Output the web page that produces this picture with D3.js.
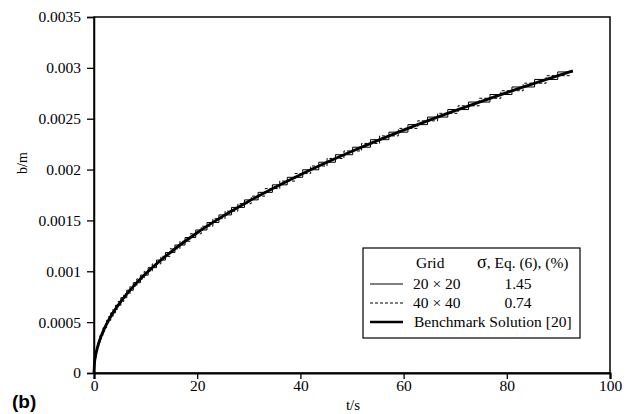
<!DOCTYPE html>
<html>
<head>
<meta charset="utf-8">
<script src="https://cdn.jsdelivr.net/npm/d3@7"></script>
<style>
  body { margin: 0; background: #fff; }
  text { font-family: "Liberation Serif", "Times New Roman", serif; fill: #000; }
</style>
</head>
<body>
<div id="chart"></div>
<script>
var width = 626;
var height = 414;
var margin = {top: 17, right: 16, bottom: 41, left: 94};
var chartWidth = width - margin.left - margin.right;
var chartHeight = height - margin.top - margin.bottom;

// tick values / labels
var xTicks = [0, 20, 40, 60, 80, 100];
var yTicks = [0, 0.0005, 0.001, 0.0015, 0.002, 0.0025, 0.003, 0.0035];
var yTickLabels = ["0", "0.0005", "0.001", "0.0015", "0.002", "0.0025", "0.003", "0.0035"];

// benchmark solution
var benchT = [0, 0.1, 0.25, 0.5, 1, 2, 3, 5, 7.5, 10, 15, 20, 25, 30, 40, 50, 60, 70, 80, 92.8];
var benchB = [0, 0.0000975, 0.000154, 0.000218, 0.000308, 0.000436, 0.000534, 0.000689, 0.000844, 0.000975,
              0.001194, 0.001379, 0.001542, 0.001689, 0.00195, 0.00218, 0.002388, 0.002579, 0.002757, 0.00297];

// 20x20 grid (stair corners, step after)
var grid20T = [0, 0.01, 0.13, 0.36, 0.71, 1.17, 1.74, 2.43, 3.24, 4.16, 5.2, 6.35, 7.62, 9, 10.5, 12.11,
               13.84, 15.68, 17.64, 19.71, 21.9, 24.21, 26.63, 29.16, 31.81, 34.57, 37.45, 40.45, 43.56,
               46.79, 50.13, 53.58, 57.15, 60.84, 64.64, 68.56, 72.59, 76.74, 81, 85.38, 89.87, 92.8];
var grid20B = [0, 0.000074, 0.000148, 0.000222, 0.000296, 0.00037, 0.000444, 0.000518, 0.000592, 0.000666,
               0.00074, 0.000814, 0.000888, 0.000962, 0.001036, 0.00111, 0.001184, 0.001258, 0.001332,
               0.001406, 0.00148, 0.001554, 0.001628, 0.001702, 0.001776, 0.00185, 0.001924, 0.001998,
               0.002072, 0.002146, 0.00222, 0.002294, 0.002368, 0.002442, 0.002516, 0.00259, 0.002664,
               0.002738, 0.002812, 0.002886, 0.00296, 0.00296];

// 40x40 grid
var grid40T = [0, 0.01, 0.06, 0.23, 0.52, 0.92, 1.44, 2.07, 2.82, 3.69, 4.67, 5.76, 6.97, 8.29, 9.73, 11.29,
               12.96, 14.75, 16.65, 18.66, 20.79, 23.04, 25.4, 27.88, 30.47, 33.18, 36, 38.94, 41.99, 45.16,
               48.44, 51.84, 55.35, 58.98, 62.73, 66.59, 70.56, 74.65, 78.85, 83.17, 87.61, 92.5];
var grid40B = [0, 0.000037, 0.000111, 0.000185, 0.000259, 0.000333, 0.000407, 0.000481, 0.000555, 0.000629,
               0.000703, 0.000777, 0.000851, 0.000925, 0.000999, 0.001073, 0.001147, 0.001221, 0.001295,
               0.001369, 0.001443, 0.001517, 0.001591, 0.001665, 0.001739, 0.001813, 0.001887, 0.001961,
               0.002035, 0.002109, 0.002183, 0.002257, 0.002331, 0.002405, 0.002479, 0.002553, 0.002627,
               0.002701, 0.002775, 0.002849, 0.002923, 0.002923];

// legend rows
var legendGrid = ["20 \u00d7 20", "40 \u00d7 40"];
var legendSigma = ["1.45", "0.74"];
var legendBench = "Benchmark Solution [20]";

var svg = d3.select("#chart")
    .append("svg")
    .attr("width", width)
    .attr("height", height);

var g = svg.append("g")
    .attr("transform", "translate(" + margin.left + "," + margin.top + ")");

var x = d3.scaleLinear().domain([0, 100]).range([0, chartWidth]);
var y = d3.scaleLinear().domain([0, 0.0035]).range([chartHeight, 0]);

// frame
g.append("rect")
    .attr("width", chartWidth)
    .attr("height", chartHeight)
    .attr("fill", "none")
    .attr("stroke", "#000")
    .attr("stroke-width", 1.5);

// axes
var xAxis = g.append("g")
    .attr("transform", "translate(0," + chartHeight + ")")
    .call(d3.axisBottom(x).tickValues(xTicks).tickSize(6).tickPadding(1).tickFormat(d3.format("d")));

var yAxis = g.append("g")
    .call(d3.axisLeft(y).tickValues(yTicks).tickSize(7).tickPadding(6)
        .tickFormat(function(d, i) { return yTickLabels[i]; }));

[xAxis, yAxis].forEach(function(a) {
    a.selectAll("text").style("font-size", "15.5px").style("font-family", "Liberation Serif");
    a.selectAll("line").attr("stroke", "#000").attr("stroke-width", 1.3);
});
xAxis.select(".domain").attr("stroke", "#000").attr("stroke-width", 2.2);
yAxis.select(".domain").attr("stroke", "#000").attr("stroke-width", 1.5);

// series
function pts(ts, bs) { return ts.map(function(t, i) { return [t, bs[i]]; }); }

var stair = d3.line()
    .x(function(d) { return x(d[0]); })
    .y(function(d) { return y(d[1]); })
    .curve(d3.curveStepAfter);

var smooth = d3.line()
    .x(function(d) { return x(d[0]); })
    .y(function(d) { return y(d[1]); })
    .curve(d3.curveMonotoneX);

g.append("path")
    .datum(pts(grid40T, grid40B))
    .attr("d", stair)
    .attr("fill", "none")
    .attr("stroke", "#000")
    .attr("stroke-width", 1)
    .attr("stroke-dasharray", "3,2");

g.append("path")
    .datum(pts(grid20T, grid20B))
    .attr("d", stair)
    .attr("fill", "none")
    .attr("stroke", "#000")
    .attr("stroke-width", 1);

g.append("path")
    .datum(pts(benchT, benchB))
    .attr("d", smooth)
    .attr("fill", "none")
    .attr("stroke", "#000")
    .attr("stroke-width", 2.8);

// axis titles
svg.append("text")
    .attr("transform", "translate(27,163) rotate(-90)")
    .attr("text-anchor", "middle")
    .style("font-size", "14px")
    .text("b/m");

svg.append("text")
    .attr("x", 353)
    .attr("y", 410)
    .attr("text-anchor", "middle")
    .style("font-size", "15px")
    .text("t/s");

svg.append("text")
    .attr("x", 12)
    .attr("y", 408)
    .style("font-family", "Liberation Sans, Arial, sans-serif")
    .style("font-weight", "bold")
    .style("font-size", "19px")
    .text("(b)");

// legend
var lg = svg.append("g");
lg.append("rect")
    .attr("x", 363).attr("y", 248)
    .attr("width", 217).attr("height", 90)
    .attr("fill", "#fff")
    .attr("stroke", "#000")
    .attr("stroke-width", 1.2);

var fs = "15.5px";
lg.append("text").attr("x", 416).attr("y", 268).style("font-size", fs).text("Grid");
var st = lg.append("text").attr("x", 477).attr("y", 268).style("font-size", fs);
st.append("tspan").style("font-size", "18px").text("\u03c3");
st.append("tspan").text(", Eq. (6), (%)");

var rowY = [289, 308];
var dashes = [null, "3,2"];
legendGrid.forEach(function(name, i) {
    lg.append("line")
        .attr("x1", 370).attr("x2", 403)
        .attr("y1", rowY[i] - 5).attr("y2", rowY[i] - 5)
        .attr("stroke", "#000")
        .attr("stroke-width", 1)
        .attr("stroke-dasharray", dashes[i]);
    lg.append("text").attr("x", 413).attr("y", rowY[i]).style("font-size", fs).text(name);
    lg.append("text").attr("x", 518).attr("y", rowY[i]).attr("text-anchor", "middle")
        .style("font-size", fs).text(legendSigma[i]);
});

lg.append("line")
    .attr("x1", 370).attr("x2", 403)
    .attr("y1", 322).attr("y2", 322)
    .attr("stroke", "#000")
    .attr("stroke-width", 2.5);
lg.append("text").attr("x", 414).attr("y", 327).style("font-size", fs).text(legendBench);
</script>
</body>
</html>
